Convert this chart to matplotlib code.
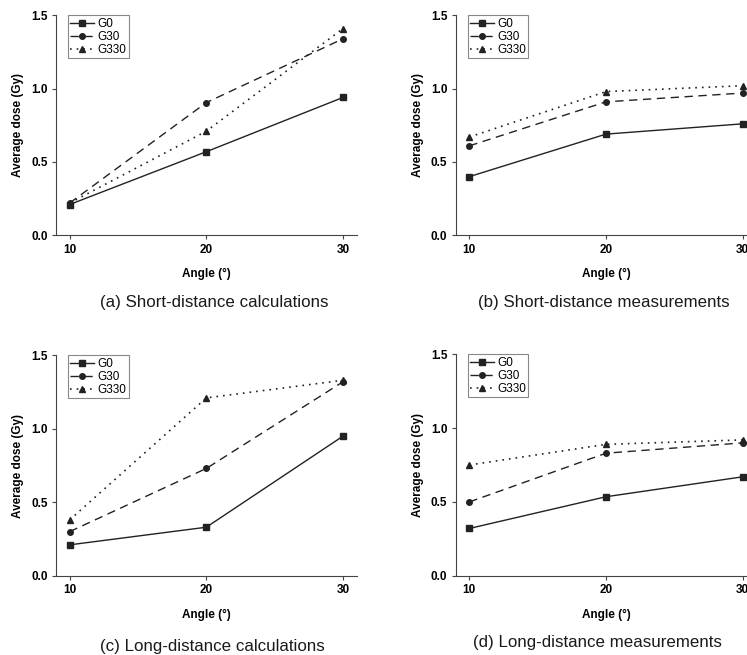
import matplotlib
matplotlib.use("Agg")
from matplotlib import pyplot as plt

angles = [10, 20, 30]

# (a) short-distance calculations
a_g0 = [0.21, 0.57, 0.94]
a_g30 = [0.22, 0.905, 1.34]
a_g330 = [0.22, 0.71, 1.41]

# (b) short-distance measurements
b_g0 = [0.40, 0.69, 0.76]
b_g30 = [0.61, 0.91, 0.97]
b_g330 = [0.67, 0.98, 1.02]

# (c) long-distance calculations
c_g0 = [0.21, 0.33, 0.95]
c_g30 = [0.30, 0.73, 1.32]
c_g330 = [0.38, 1.21, 1.33]

# (d) long-distance measurements
d_g0 = [0.32, 0.535, 0.67]
d_g30 = [0.50, 0.83, 0.90]
d_g330 = [0.75, 0.89, 0.92]

captions = ['(a) Short-distance calculations', '(b) Short-distance measurements',
            '(c) Long-distance calculations', '(d) Long-distance measurements']

W, H = 747, 655
fig = plt.figure(figsize=(W / 100, H / 100), dpi=100)
plt.rcParams['font.family'] = ['Liberation Sans', 'DejaVu Sans']


def px_axes(left, top, right, bottom):
    return fig.add_axes([left / W, 1 - bottom / H, (right - left) / W, (bottom - top) / H])


def panel(ax, g0, g30, g330):
    ax.plot(angles, g0, color='#222222', ls='-', lw=1.0, marker='s', ms=4, label='G0')
    ax.plot(angles, g30, color='#222222', ls=(0, (6, 4)), lw=1.0, marker='o', ms=4, label='G30')
    ax.plot(angles, g330, color='#222222', ls=(0, (1, 3)), lw=1.2, marker='^', ms=4.5, label='G330')
    ax.set_xlim(9, 31)
    ax.set_ylim(0, 1.5)
    ax.set_xticks([10, 20, 30])
    ax.set_yticks([0.0, 0.5, 1.0, 1.5])
    ax.set_yticklabels(['0.0', '0.5', '1.0', '1.5'])
    ax.spines['top'].set_visible(False)
    ax.spines['right'].set_visible(False)
    for s in ['left', 'bottom']:
        ax.spines[s].set_color('#444444')
    ax.tick_params(labelsize=8.5, length=3, color='#444444', pad=3)
    for lab in ax.get_xticklabels() + ax.get_yticklabels():
        lab.set_fontweight('bold')
    ax.set_xlabel('Angle (°)', fontsize=8.5, fontweight='bold', labelpad=9)
    ax.set_ylabel('Average dose (Gy)', fontsize=8.5, fontweight='bold', labelpad=5)
    leg = ax.legend(loc='upper left', bbox_to_anchor=(0.04, 1.0), fontsize=8.5,
                    handlelength=2.0, handletextpad=0.3, borderpad=0.2, borderaxespad=0,
                    labelspacing=0.1, fancybox=False, framealpha=1)
    leg.get_frame().set_edgecolor('#888888')
    leg.get_frame().set_linewidth(0.8)


axa = px_axes(56, 15.3, 356.7, 235.3)
axb = px_axes(455.7, 15.3, 756.4, 235.3)
axc = px_axes(56, 355.3, 356.7, 575.7)
axd = px_axes(455.7, 354.3, 756.4, 575.7)

panel(axa, a_g0, a_g30, a_g330)
panel(axb, b_g0, b_g30, b_g330)
panel(axc, c_g0, c_g30, c_g330)
panel(axd, d_g0, d_g30, d_g330)

cap_pos = [(214, 302), (604, 302), (212, 646), (597, 643)]
for (x, y), txt in zip(cap_pos, captions):
    fig.text(x / W, 1 - y / H, txt, ha='center', va='center', fontsize=12.2,
             color='#1a1a1a')

fig.savefig('out.png', dpi=100)
